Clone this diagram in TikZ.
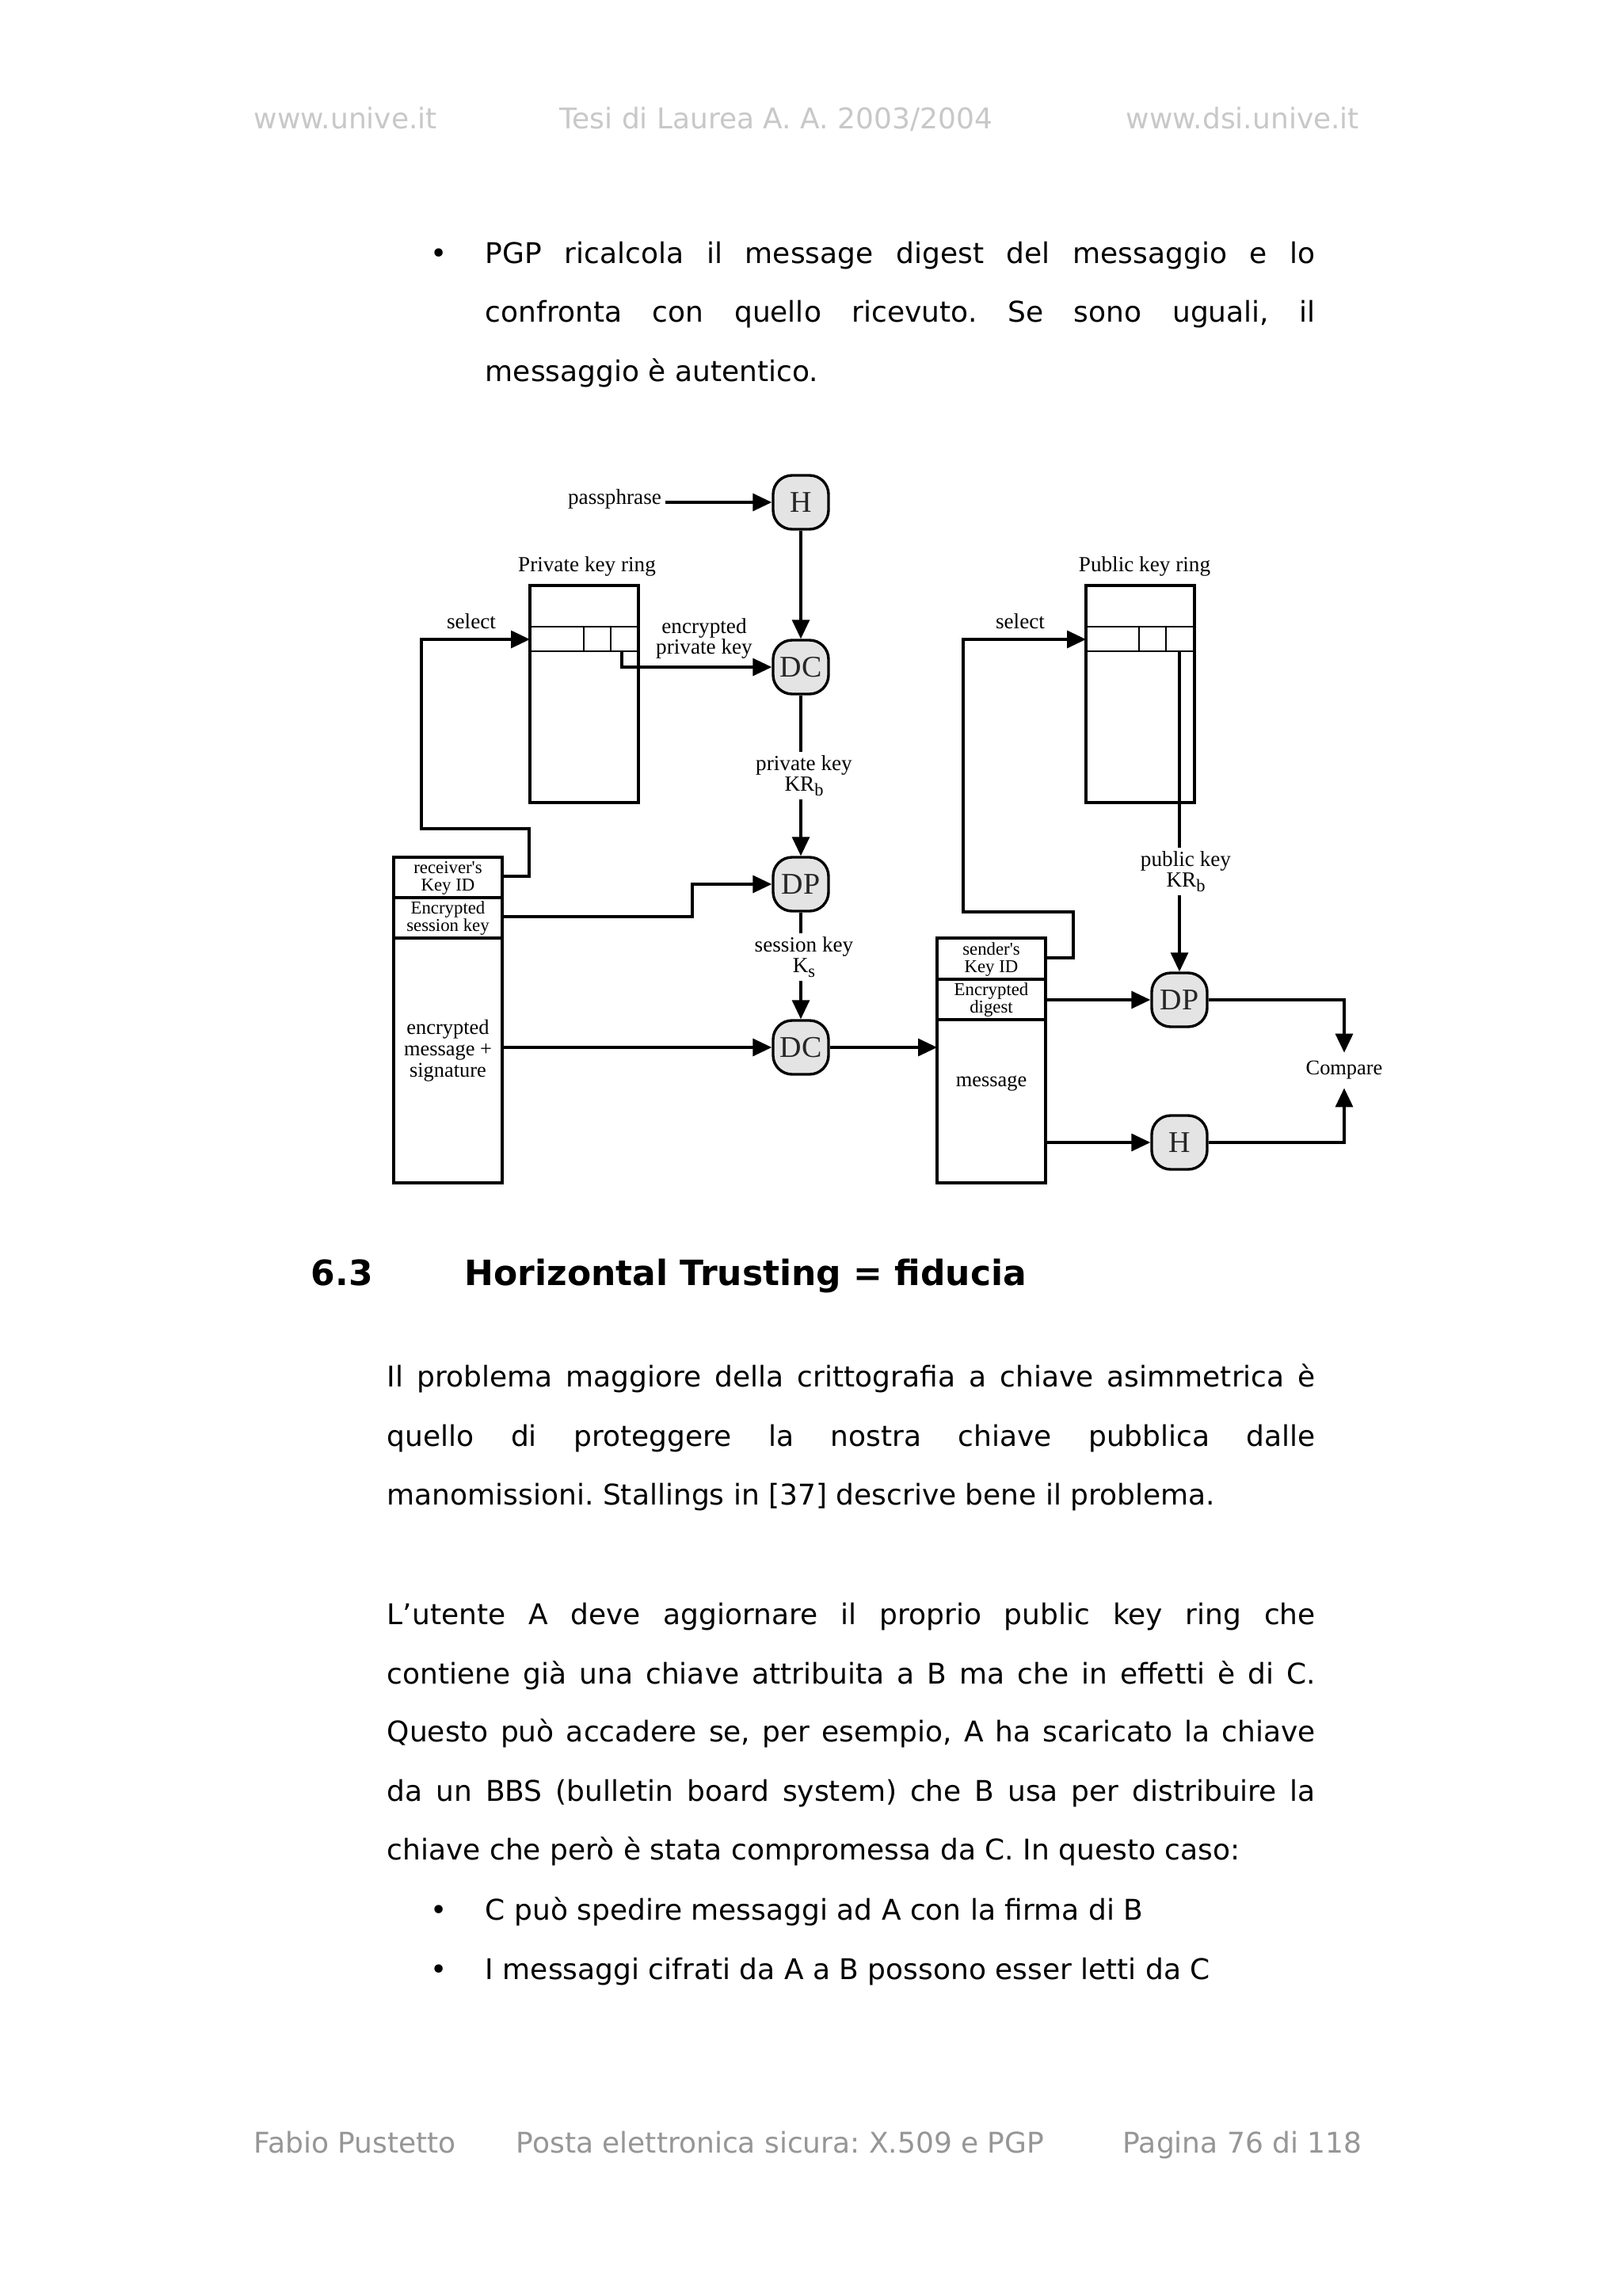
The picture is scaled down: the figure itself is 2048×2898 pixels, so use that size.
\documentclass[tikz,border=0pt]{standalone}
\usepackage{fontspec}
\setmainfont{DejaVu Sans}
\newfontfamily\dgfont{Liberation Serif}
\usetikzlibrary{arrows.meta}
\frenchspacing
\definecolor{hdrgray}{RGB}{200,200,200}
\definecolor{ftrgray}{RGB}{150,150,150}
\definecolor{opfill}{RGB}{228,228,228}
\newcommand\pbody{\fontsize{9}{9}\selectfont}
\newcommand\phead{\fontsize{11}{11}\selectfont\bfseries}
\newcommand\dlab{\dgfont\fontsize{6.8}{6.5}\selectfont}
\newcommand\dsmall{\dgfont\fontsize{5.7}{5.5}\selectfont}
\newcommand\dmid{\dgfont\fontsize{6.6}{6.7}\selectfont}
\newcommand\dop{\dgfont\fontsize{9.5}{9.5}\selectfont}
\newcommand\lowsub[1]{\raisebox{-0.45ex}{\fontsize{5.6}{5.6}\selectfont #1}}
\begin{document}
\begin{tikzpicture}[x=0.25pt,y=-0.25pt,
 txt/.style={anchor=base west,inner sep=0pt,font=\pbody},
 bul/.style={anchor=base,inner sep=0pt,font=\pbody},
 hdr/.style={txt,text=hdrgray},
 ftr/.style={txt,text=ftrgray},
 op/.style={draw,fill=opfill,rounded corners=6pt,minimum width=17.5pt,minimum height=17pt,inner sep=0pt,line width=0.85pt,font=\dop,text=black!85},
 lab/.style={inner sep=1pt,font=\dlab,align=center},
 ring/.style={draw,line width=0.85pt,minimum width=34.25pt,inner sep=0pt},
 rowline/.style={line width=0.55pt},
 conn/.style={line width=0.8pt},
 arr/.style={conn,-{Triangle[length=6pt,width=5.5pt]}},
]
\fill[white] (0,0) rectangle (2048,2898);
\path[use as bounding box] (0,0) rectangle (2048,2898);

% header
\node[hdr] (h1) at (320,163) {www.unive.it};
\node[hdr] (h2) at (706,163) {Tesi di Laurea A. A. 2003/2004};
\node[hdr] (h3) at (1421,163) {www.dsi.unive.it};

% first bullet
\node[bul] (bu1) at (554,333) {•};
\node[txt] (l1) at (612,333) {\makebox[262pt][s]{PGP ricalcola il message digest del messaggio e lo}};
\node[txt] (l2) at (612,407) {\makebox[262pt][s]{confronta con quello ricevuto. Se sono uguali, il}};
\node[txt] (l3) at (612,482) {messaggio è autentico.};

% ---------------- diagram ----------------
\node[lab] (pass) at (776,630) {passphrase};
\node[op] (H1) at (1011,634) {H};
\node[lab] (privlab) at (741,715) {Private key ring};
\node[ring,minimum height=68.5pt] (privring) at (737.5,876) {};
\draw[rowline] (669,791) -- (806,791) (669,822) -- (806,822) (737,791) -- (737,822) (771,791) -- (771,822);
\node[lab] (sel1) at (595,784) {select};
\node[lab] (epklab) at (889,806) {encrypted\\private key};
\node[op] (DC1) at (1011,842) {DC};
\node[lab] (pklab) at (1015,979) {private key\\KR\lowsub{b}};
\node[op] (DP1) at (1011,1116) {DP};
\node[lab] (sklab) at (1015,1208) {session key\\K\lowsub{s}};
\node[op] (DC2) at (1011,1322) {DC};

% receiver's box
\node[ring,minimum height=102.75pt] (recv) at (565.5,1287.5) {};
\draw[line width=0.8pt] (497,1133) -- (634,1133) (497,1184) -- (634,1184);
\node[lab,font=\dsmall,inner sep=0pt] (rkid) at (565.5,1108) {receiver's\\Key ID};
\node[lab,font=\dsmall,inner sep=0pt] (resk) at (565.5,1159) {Encrypted\\session key};
\node[lab,font=\dmid,inner sep=0pt] (rmsg) at (565.5,1326) {encrypted\\message +\\signature};

% public key ring
\node[lab] (publab) at (1445,715) {Public key ring};
\node[ring,minimum height=68.5pt] (pubring) at (1439.5,876) {};
\draw[rowline] (1371,791) -- (1508,791) (1371,822) -- (1508,822) (1438,791) -- (1438,822) (1472,791) -- (1472,822);
\node[lab] (sel2) at (1288,784) {select};
\node[lab] (pklab2) at (1497,1100) {public key\\KR\lowsub{b}};

% sender's box
\node[ring,minimum height=77.25pt] (send) at (1251.5,1338.5) {};
\draw[line width=0.8pt] (1183,1236) -- (1320,1236) (1183,1287) -- (1320,1287);
\node[lab,font=\dsmall,inner sep=0pt] (skid) at (1251.5,1211) {sender's\\Key ID};
\node[lab,font=\dsmall,inner sep=0pt] (sed) at (1251.5,1262) {Encrypted\\digest};
\node[lab,font=\dmid,inner sep=0pt] (smsg) at (1251.5,1368) {message};

\node[op] (DP2) at (1489,1262) {DP};
\node[op] (H2) at (1489,1442) {H};
\node[lab,font=\dmid,inner sep=2.5pt] (cmp) at (1697,1351) {Compare};

% port coordinates
\coordinate (privsel) at (669,807);
\coordinate (pubsel) at (1371,807);
\coordinate (epk) at (785,822);
\coordinate (pubkr) at (1489,822);
\coordinate (recvKey) at (634,1106);
\coordinate (recvESK) at (634,1157);
\coordinate (recvEM) at (634,1322);
\coordinate (sendIn) at (1183,1322);
\coordinate (sendKey) at (1320,1209);
\coordinate (sendED) at (1320,1262);
\coordinate (sendMsg) at (1320,1442);

% connectors
\draw[arr] (pass.east |- H1.west) -- (H1.west);
\draw[arr] (H1.south) -- (DC1.north);
\draw[arr] (epk) -- (785,842) -- (DC1.west);
\draw[conn] (DC1.south) -- (DC1.south |- pklab.north);
\draw[arr] (DP1.north |- pklab.south) -- (DP1.north);
\draw[conn] (DP1.south) -- (DP1.south |- sklab.north);
\draw[arr] (DC2.north |- sklab.south) -- (DC2.north);
\draw[arr] (recvKey) -- (668,1106) -- (668,1046) -- (532,1046) -- (532,807) -- (privsel);
\draw[arr] (recvESK) -- (874,1157) -- (874,1116) -- (DP1.west);
\draw[arr] (recvEM) -- (DC2.west);
\draw[arr] (DC2.east) -- (sendIn);
\draw[arr] (sendKey) -- (1355,1209) -- (1355,1151) -- (1216,1151) -- (1216,807) -- (pubsel);
\draw[conn] (pubkr) -- (pubkr |- pklab2.north);
\draw[arr] (DP2.north |- pklab2.south) -- (DP2.north);
\draw[arr] (sendED) -- (DP2.west);
\draw[arr] (sendMsg) -- (H2.west);
\draw[arr] (DP2.east) -- (cmp.north |- DP2.east) -- (cmp.north);
\draw[arr] (H2.east) -- (cmp.south |- H2.east) -- (cmp.south);

% ---------------- section ----------------
\node[txt,font=\phead] (secnum) at (392,1622) {6.3};
\node[txt,font=\phead] (sectitle) at (586,1622) {Horizontal Trusting = fiducia};

\node[txt] (p1) at (488,1750) {\makebox[293pt][s]{Il problema maggiore della crittografia a chiave asimmetrica è}};
\node[txt] (p2) at (488,1825) {\makebox[293pt][s]{quello di proteggere la nostra chiave pubblica dalle}};
\node[txt] (p3) at (488,1899) {manomissioni. Stallings in [37] descrive bene il problema.};

\node[txt] (q1) at (488,2050) {\makebox[293pt][s]{L’utente A deve aggiornare il proprio public key ring che}};
\node[txt] (q2) at (488,2125) {\makebox[293pt][s]{contiene già una chiave attribuita a B ma che in effetti è di C.}};
\node[txt] (q3) at (488,2198) {\makebox[293pt][s]{Questo può accadere se, per esempio, A ha scaricato la chiave}};
\node[txt] (q4) at (488,2273) {\makebox[293pt][s]{da un BBS (bulletin board system) che B usa per distribuire la}};
\node[txt] (q5) at (488,2347) {chiave che però è stata compromessa da C. In questo caso:};

\node[bul] (bu2) at (554,2423) {•};
\node[txt] (r1) at (612,2423) {C può spedire messaggi ad A con la firma di B};
\node[bul] (bu3) at (554,2498) {•};
\node[txt] (r2) at (612,2498) {I messaggi cifrati da A a B possono esser letti da C};

% footer
\node[ftr] (f1) at (320,2717) {Fabio Pustetto};
\node[ftr] (f2) at (651,2717) {Posta elettronica sicura: X.509 e PGP};
\node[ftr] (f3) at (1417,2717) {Pagina 76 di 118};
\end{tikzpicture}
\end{document}
